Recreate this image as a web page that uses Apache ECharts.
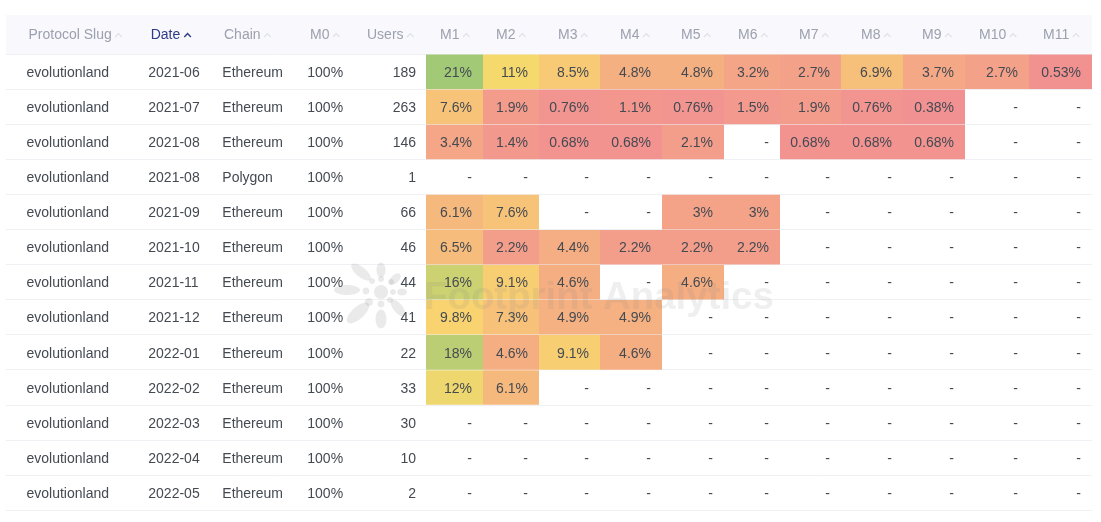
<!DOCTYPE html>
<html>
<head>
<meta charset="utf-8">
<style>
  html, body { margin: 0; padding: 0; background: #fff; }
  #main { width: 1101px; height: 522px; }
</style>
<script src="https://cdn.jsdelivr.net/npm/echarts@6/dist/echarts.min.js"></script>
</head>
<body>
<div id="main"></div>
<script>
const headers = ['Protocol Slug', 'Date', 'Chain', 'M0', 'Users', 'M1', 'M2', 'M3', 'M4', 'M5', 'M6', 'M7', 'M8', 'M9', 'M10', 'M11'];
const slugs = Array(13).fill('evolutionland');
const dates = ['2021-06', '2021-07', '2021-08', '2021-08', '2021-09', '2021-10', '2021-11', '2021-12', '2022-01', '2022-02', '2022-03', '2022-04', '2022-05'];
const chains = ['Ethereum', 'Ethereum', 'Ethereum', 'Polygon', 'Ethereum', 'Ethereum', 'Ethereum', 'Ethereum', 'Ethereum', 'Ethereum', 'Ethereum', 'Ethereum', 'Ethereum'];
const m0 = Array(13).fill('100%');
const users = [189, 263, 146, 1, 66, 46, 44, 41, 22, 33, 30, 10, 2];

// retention % per row, M1..M11, null is a "-" cell
const retention = [
  [21, 11, 8.5, 4.8, 4.8, 3.2, 2.7, 6.9, 3.7, 2.7, 0.53],
  [7.6, 1.9, 0.76, 1.1, 0.76, 1.5, 1.9, 0.76, 0.38, null, null],
  [3.4, 1.4, 0.68, 0.68, 2.1, null, 0.68, 0.68, 0.68, null, null],
  [null, null, null, null, null, null, null, null, null, null, null],
  [6.1, 7.6, null, null, 3, 3, null, null, null, null, null],
  [6.5, 2.2, 4.4, 2.2, 2.2, 2.2, null, null, null, null, null],
  [16, 9.1, 4.6, null, 4.6, null, null, null, null, null, null],
  [9.8, 7.3, 4.9, 4.9, null, null, null, null, null, null, null],
  [18, 4.6, 9.1, 4.6, null, null, null, null, null, null, null],
  [12, 6.1, null, null, null, null, null, null, null, null, null],
  [null, null, null, null, null, null, null, null, null, null, null],
  [null, null, null, null, null, null, null, null, null, null, null],
  [null, null, null, null, null, null, null, null, null, null, null]
];

// layout, in page px
const monthEdges = [426, 483, 539, 600, 662, 724, 780, 841, 903, 965, 1029, 1092];
const headerX = [28.5, 150.7, 224, 310, 367, 440, 496, 558, 620, 681, 738, 799, 861, 922, 979, 1043];
const FONT = '"Liberation Sans", Arial, sans-serif';
const TEXT = '#444a52';

const chart = echarts.init(document.getElementById('main'), null, { renderer: 'canvas' });

const cellData = [];
const labelData = [];
retention.forEach((row, r) => {
  row.forEach((v, c) => {
    if (v !== null) cellData.push([c, r, v]);
    labelData.push([c, r, v === null ? '-' : v + '%']);
  });
});
const leftData = dates.map((d, r) => [r, slugs[r], d, chains[r], m0[r], users[r]]);

function renderCell(params, api) {
  const c = api.value(0), r = api.value(1);
  const a = api.coord([monthEdges[c], r]);
  const b = api.coord([monthEdges[c + 1], r]);
  const h = api.size([0, 1])[1];
  return {
    type: 'rect',
    shape: { x: a[0], y: a[1] - h / 2 + 0.5, width: b[0] - a[0], height: h - 0.5 },
    style: { fill: api.visual('color') }
  };
}

function renderMonthLabel(params, api) {
  const c = api.value(0), r = api.value(1);
  const p = api.coord([monthEdges[c + 1] - 11, r]);
  return {
    type: 'text',
    style: { text: labelData[params.dataIndex][2], x: p[0], y: p[1] + 1.5, align: 'right', verticalAlign: 'middle', fill: TEXT, font: '14px ' + FONT }
  };
}

function renderLeft(params, api) {
  const r = api.value(0);
  const row = leftData[params.dataIndex];
  const t = (str, x, align) => {
    const p = api.coord([x, r]);
    return { type: 'text', style: { text: String(str), x: p[0], y: p[1] + 1.5, align: align, verticalAlign: 'middle', fill: TEXT, font: '14px ' + FONT } };
  };
  return {
    type: 'group',
    children: [t(row[1], 26.5, 'left'), t(row[2], 148.3, 'left'), t(row[3], 222.3, 'left'), t(row[4], 307.3, 'left'), t(row[5], 416, 'right')]
  };
}

// header band, titles and sort carets
const canvasCtx = document.createElement('canvas').getContext('2d');
canvasCtx.font = '14px ' + FONT;
const headerGraphics = [{
  type: 'rect', shape: { x: 6, y: 15, width: 1086, height: 39 }, style: { fill: '#f8f8fd' }, z: 1
}];
headers.forEach((name, i) => {
  const active = name === 'Date';
  const x = headerX[i];
  const w = canvasCtx.measureText(name).width;
  headerGraphics.push({
    type: 'text', z: 2,
    style: { text: name, x: x, y: 35.5, verticalAlign: 'middle', fill: active ? '#2e3a8c' : '#9ca1ae', font: '14px ' + FONT }
  });
  const cx = x + w + (active ? 4 : 3.5);
  headerGraphics.push({
    type: 'polyline', z: 2,
    shape: { points: [[cx, 37], [cx + 3.3, 33.5], [cx + 6.6, 37]] },
    style: { stroke: active ? '#2e3a8c' : '#e0e1e7', lineWidth: active ? 1.4 : 1.1, fill: null }
  });
});

// watermark: petals of the logo plus the wordmark, above the table
const markFill = 'rgba(128,128,128,0.17)';
const petals = [
  [381, 270, 4.5, 7.5, 0], [395, 279, 4, 7, -45], [402, 292, 5, 3.5, 0], [398, 308, 4.5, 10, 40],
  [381, 319, 5.5, 9.5, 0], [358, 313, 6, 14, -48], [347, 290, 13, 5, 0], [361, 272, 5, 12, 50],
  [381, 279, 3, 3, 0], [391, 282, 3, 3, 0], [393, 292, 3, 3, 0], [390, 300, 3, 3, 0],
  [381, 304, 3.5, 3.5, 0], [369, 302, 4, 4, 0], [366, 291, 3.5, 3.5, 0], [372, 281, 3, 3, 0],
  [381, 292, 7, 7, 0]
];
const watermark = petals.map(p => ({
  type: 'ellipse', z: 50,
  x: p[0], y: p[1], rotation: p[4] * Math.PI / 180,
  shape: { cx: 0, cy: 0, rx: p[2], ry: p[3] },
  style: { fill: markFill }
}));
watermark.push({
  type: 'text', z: 50,
  style: { text: 'Footprint Analytics', x: 424, y: 298, verticalAlign: 'middle', fill: 'rgba(128,128,128,0.13)', font: 'bold 38.4px ' + FONT }
});

const option = {
  animation: false,
  backgroundColor: '#fff',
  grid: { left: 6, width: 1086, top: 54, height: 456, containLabel: false },
  xAxis: { type: 'value', min: 6, max: 1092, show: false },
  yAxis: {
    type: 'category',
    inverse: true,
    data: dates.map((d, i) => i),
    axisLine: { show: false },
    axisTick: { show: false },
    axisLabel: { show: false },
    splitLine: { show: true, lineStyle: { color: '#eff0f4', width: 1 } }
  },
  visualMap: {
    show: false,
    type: 'continuous',
    seriesIndex: 0,
    dimension: 2,
    min: 0.38,
    max: 21,
    inRange: { color: ['#f29191', '#f9d96d', '#a2ca76'] }
  },
  graphic: { elements: headerGraphics.concat(watermark) },
  series: [
    { type: 'custom', renderItem: renderCell, data: cellData, clip: false, z: 2, silent: true },
    { type: 'custom', renderItem: renderMonthLabel, data: labelData.map(d => [d[0], d[1]]), clip: false, z: 3, silent: true },
    { type: 'custom', renderItem: renderLeft, data: leftData.map(d => [d[0]]), clip: false, z: 3, silent: true }
  ]
};
chart.setOption(option);
</script>
</body>
</html>
